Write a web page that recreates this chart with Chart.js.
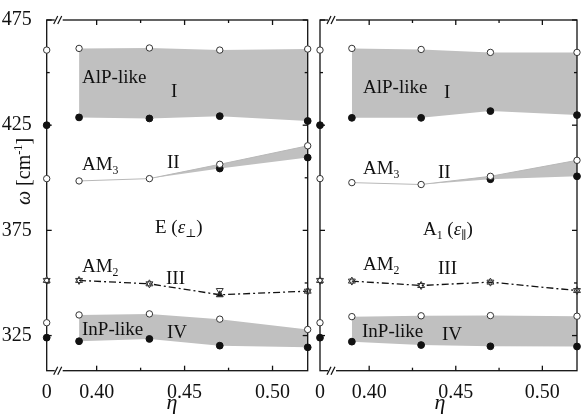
<!DOCTYPE html>
<html>
<head>
<meta charset="utf-8">
<script src="https://cdn.jsdelivr.net/npm/chart.js@4.4.0/dist/chart.umd.min.js"></script>
<style>
  html, body { margin: 0; padding: 0; background: #fff; }
  #wrap { position: relative; width: 582px; height: 418px; }
  #left { position: absolute; left: 0; top: 0; }
  #right { position: absolute; left: 314px; top: 0; }
</style>
</head>
<body>
<div id="wrap">
  <canvas id="left" width="314" height="418"></canvas>
  <canvas id="right" width="268" height="418"></canvas>
</div>
<script>
// composition values of the alloys
const eta = [0.39, 0.43, 0.47, 0.52];
// position of eta = 0 on the broken axis
const ETA0_POS = 0.3716;
const xTicks = [0.40, 0.425, 0.45, 0.475, 0.50];
const xLabels = ['0.40', '', '0.45', '', '0.50'];
const yTicks = [325, 350, 375, 400, 425, 450, 475];
const yLabels = ['325', '', '375', '', '425', '', '475'];

// binary compounds (eta = 0), same in both panels
const bulkOpen = [460.7, 399.6, 331.1];
const bulkFilled = [425.0, 324.0];
const bulkIII = [351.2];

// E (eps perp)
const eI_open = [461.5, 461.7, 460.7, 461.2];
const eI_fill = [428.7, 428.2, 429.3, 427.0];
const eII_open = [398.5, 399.6, 406.4, 415.2];
const eII_fill = [398.5, 399.6, 404.4, 409.6];
const eIII_up = [351.2, 349.6, 344.4, 346.1];
const eIII_down = [351.2, 349.6, 346.4, 346.1];
const eIV_open = [334.8, 335.3, 332.8, 327.9];
const eIV_fill = [322.3, 323.4, 320.2, 319.4];

// A1 (eps par)
const aI_open = [461.5, 461.0, 459.6, 459.6];
const aI_fill = [428.5, 428.5, 431.7, 429.8];
const aII_open = [397.7, 396.8, 400.7, 408.3];
const aII_fill = [397.7, 396.8, 399.3, 400.7];
const aIII_up = [350.9, 348.8, 350.4, 346.4];
const aIII_down = [350.9, 348.8, 350.4, 346.4];
const aIV_open = [334.0, 334.4, 334.5, 334.2];
const aIV_fill = [322.1, 320.5, 319.9, 319.8];

const GRAY = '#c0c0c0';
const INK = '#111';
const SERIF = '"Liberation Serif", "DejaVu Serif", serif';

function pts(ys) { return eta.map((x, i) => ({ x: x, y: ys[i] })); }
function bulk(ys) { return ys.map(v => ({ x: ETA0_POS, y: v })); }

const openPt = { pointRadius: 3.2, pointBackgroundColor: '#fff', pointBorderColor: '#333', pointBorderWidth: 1 };
const solidPt = { pointRadius: 3.4, pointBackgroundColor: INK, pointBorderColor: INK, pointBorderWidth: 1 };
const none = 'rgba(0,0,0,0)';

function panelSets(I_o, I_f, II_o, II_f, III_u, III_d, IV_o, IV_f) {
  return [
    Object.assign({ data: pts(I_o), fill: '+1', backgroundColor: GRAY, borderColor: none, borderWidth: 0 }, openPt),
    Object.assign({ data: pts(I_f), fill: false, borderColor: none, borderWidth: 0 }, solidPt),
    Object.assign({ data: pts(II_o), fill: '+1', backgroundColor: GRAY, borderColor: '#b8b8b8', borderWidth: 1 }, openPt),
    Object.assign({ data: pts(II_f), fill: false, borderColor: none, borderWidth: 0 }, solidPt,
      { pointRadius: c => (II_f[c.dataIndex] !== II_o[c.dataIndex] ? 3.4 : 0) }),
    { data: pts(III_d), showLine: false, pointStyle: 'triangle', rotation: 180, pointRadius: 4,
      pointBackgroundColor: 'rgba(255,255,255,0)', pointBorderColor: '#333', pointBorderWidth: 1 },
    { data: pts(III_u), fill: false, borderColor: INK, borderWidth: 1.3, borderDash: [7, 3, 2, 3],
      pointStyle: 'triangle', pointRadius: 4, pointBorderColor: '#333', pointBorderWidth: 1,
      pointBackgroundColor: c => (III_u[c.dataIndex] !== III_d[c.dataIndex] ? INK : 'rgba(255,255,255,0)') },
    Object.assign({ data: pts(IV_o), fill: '+1', backgroundColor: GRAY, borderColor: none, borderWidth: 0 }, openPt),
    Object.assign({ data: pts(IV_f), fill: false, borderColor: none, borderWidth: 0 }, solidPt),
    Object.assign({ data: bulk(bulkOpen), showLine: false }, openPt),
    Object.assign({ data: bulk(bulkFilled), showLine: false }, solidPt),
    { data: bulk(bulkIII), showLine: false, pointStyle: 'triangle', rotation: 180, pointRadius: 4,
      pointBackgroundColor: 'rgba(255,255,255,0)', pointBorderColor: '#333', pointBorderWidth: 1 },
    { data: bulk(bulkIII), showLine: false, pointStyle: 'triangle', pointRadius: 4,
      pointBackgroundColor: '#fff', pointBorderColor: '#333', pointBorderWidth: 1 }
  ];
}

function drawRich(ctx, x, y, parts, size) {
  let cx = x;
  parts.forEach(p => {
    const txt = typeof p === 'string' ? p : p[0];
    const st = typeof p === 'string' ? 'n' : p[1];
    let fs = size, dy = 0, style = '';
    if (st === 'sub') { fs = size * 0.62; dy = size * 0.22; }
    if (st === 'sup') { fs = size * 0.62; dy = -size * 0.42; }
    if (st === 'i') style = 'italic ';
    ctx.font = style + fs + 'px ' + SERIF;
    ctx.fillText(txt, cx, y + dy);
    cx += ctx.measureText(txt).width;
  });
}

function line(ctx, x1, y1, x2, y2) {
  ctx.beginPath(); ctx.moveTo(x1, y1); ctx.lineTo(x2, y2); ctx.stroke();
}

const frame = {
  id: 'frame',
  beforeDatasetsDraw(chart) {
    const { ctx, chartArea: a, scales: { x, y } } = chart;
    ctx.save();
    ctx.strokeStyle = INK;
    ctx.lineWidth = 1.3;
    ctx.strokeRect(a.left, a.top, a.right - a.left, a.bottom - a.top);
    x.ticks.forEach(t => {
      if (t.value === ETA0_POS) return;
      const px = x.getPixelForValue(t.value);
      const len = t.label ? 5 : 3;
      line(ctx, px, a.top, px, a.top + len);
      line(ctx, px, a.bottom, px, a.bottom - len);
    });
    y.ticks.forEach(t => {
      const py = y.getPixelForValue(t.value);
      const len = yLabels[yTicks.indexOf(t.value)] ? 5 : 3;
      line(ctx, a.left, py, a.left + len, py);
      line(ctx, a.right, py, a.right - len, py);
    });
    // axis breaks
    [a.top, a.bottom].forEach(yy => {
      ctx.strokeStyle = '#fff';
      ctx.lineWidth = 3;
      line(ctx, a.left + 8, yy, a.left + 16, yy);
      ctx.strokeStyle = INK;
      ctx.lineWidth = 1.2;
      line(ctx, a.left + 7, yy + 4, a.left + 11, yy - 4);
      line(ctx, a.left + 11, yy + 4, a.left + 15, yy - 4);
    });
    ctx.restore();
  },
  afterDraw(chart, args, opts) {
    const ctx = chart.ctx;
    ctx.save();
    ctx.fillStyle = INK;
    ctx.textBaseline = 'alphabetic';
    ctx.textAlign = 'left';
    (opts.labels || []).forEach(l => drawRich(ctx, l.x - opts.dx, l.y, l.parts, 19));
    ctx.font = 'italic 22px ' + SERIF;
    ctx.textAlign = 'center';
    ctx.fillText('\u03b7', opts.etaX - opts.dx, 409);
    if (opts.yTitle) {
      ctx.translate(30, 205);
      ctx.rotate(-Math.PI / 2);
      ctx.textAlign = 'left';
      drawRich(ctx, 0, 0, [['\u03c9', 'i'], ' [cm', ['-1', 'sup'], ']'], 20);
    }
    ctx.restore();
  }
};

function makeChart(id, sets, cfg) {
  return new Chart(document.getElementById(id), {
    type: 'line',
    data: { datasets: sets.map(s => Object.assign({ tension: 0, clip: false }, s)) },
    options: {
      responsive: false,
      animation: false,
      layout: { padding: { top: 20, right: cfg.padRight, left: 0, bottom: 0 } },
      plugins: {
        legend: { display: false },
        tooltip: { enabled: false },
        filler: { drawTime: 'beforeDatasetsDraw' },
        frame: { labels: cfg.labels, dx: cfg.dx, etaX: cfg.etaX, yTitle: cfg.yTitle }
      },
      scales: {
        x: {
          type: 'linear', min: ETA0_POS, max: 0.52,
          grid: { display: false }, border: { display: false },
          afterBuildTicks: s => { s.ticks = [ETA0_POS].concat(xTicks).map(v => ({ value: v })); },
          afterFit: s => { s.height = 47.3; s.paddingLeft = 0; s.paddingRight = 0; },
          ticks: {
            autoSkip: false, maxRotation: 0, padding: 2, color: INK,
            font: { family: SERIF, size: 20 },
            callback: v => (v === ETA0_POS ? '0' : xLabels[xTicks.indexOf(v)])
          }
        },
        y: {
          min: 308.3, max: 475,
          grid: { display: false }, border: { display: false },
          afterBuildTicks: s => { s.ticks = yTicks.map(v => ({ value: v })); },
          afterFit: s => { s.width = cfg.yWidth; },
          ticks: {
            display: cfg.yTitle, padding: 7, color: INK,
            font: { family: SERIF, size: 20 },
            callback: v => yLabels[yTicks.indexOf(v)]
          }
        }
      }
    },
    plugins: [frame]
  });
}

const leftLabels = [
  { x: 82, y: 83, parts: ['AlP-like'] },
  { x: 171, y: 97, parts: ['I'] },
  { x: 82, y: 170, parts: ['AM', ['3', 'sub']] },
  { x: 167, y: 168, parts: ['II'] },
  { x: 155, y: 233, parts: ['E (', ['\u03b5', 'i'], ['\u22a5', 'sub'], ')'] },
  { x: 82, y: 272, parts: ['AM', ['2', 'sub']] },
  { x: 166, y: 284, parts: ['III'] },
  { x: 82, y: 335, parts: ['InP-like'] },
  { x: 167, y: 338, parts: ['IV'] }
];
const rightLabels = [
  { x: 363, y: 93, parts: ['AlP-like'] },
  { x: 444, y: 98, parts: ['I'] },
  { x: 363, y: 174, parts: ['AM', ['3', 'sub']] },
  { x: 438, y: 178, parts: ['II'] },
  { x: 423, y: 235, parts: ['A', ['1', 'sub'], ' (', ['\u03b5', 'i'], ['\u2225', 'sub'], ')'] },
  { x: 363, y: 270, parts: ['AM', ['2', 'sub']] },
  { x: 438, y: 274, parts: ['III'] },
  { x: 362, y: 337, parts: ['InP-like'] },
  { x: 442, y: 340, parts: ['IV'] }
];

makeChart('left',
  panelSets(eI_open, eI_fill, eII_open, eII_fill, eIII_up, eIII_down, eIV_open, eIV_fill),
  { padRight: 6.3, yWidth: 46.7, yTitle: true, labels: leftLabels, dx: 0, etaX: 172 });
makeChart('right',
  panelSets(aI_open, aI_fill, aII_open, aII_fill, aIII_up, aIII_down, aIV_open, aIV_fill),
  { padRight: 1, yWidth: 6, yTitle: false, labels: rightLabels, dx: 314, etaX: 440 });
</script>
</body>
</html>
